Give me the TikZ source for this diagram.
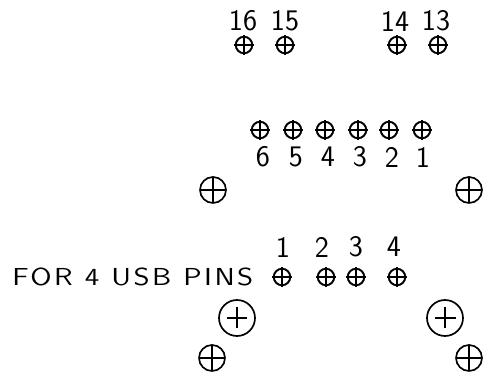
\documentclass[tikz,border=0pt]{standalone}
\usepackage{fontspec}
\newfontfamily\cadfont[FakeStretch=1.2,LetterSpace=10]{Latin Modern Sans}
\begin{document}
\begin{tikzpicture}[x=0.02cm,y=-0.02cm,
  txt/.style={font=\sffamily\fontsize{17}{18}\selectfont,inner sep=0pt},
  note/.style={font=\cadfont\fontsize{14}{15}\selectfont,inner sep=0pt},
  cross/.style={append after command={\pgfextra{
    \draw[line width=0.6pt] ([xshift=-#1]\tikzlastnode.center) -- ([xshift=#1]\tikzlastnode.center);
    \draw[line width=0.6pt] ([yshift=-#1]\tikzlastnode.center) -- ([yshift=#1]\tikzlastnode.center);}}},
  pin/.style={circle,draw,line width=1.1pt,inner sep=0pt,minimum size=0.33cm,cross=0.2cm},
  hole/.style={circle,draw,line width=0.95pt,inner sep=0pt,minimum size=0.52cm,cross=0.26cm},
  mount/.style={circle,draw,line width=0.95pt,inner sep=0pt,minimum size=0.72cm,cross=0.21cm}]
\useasboundingbox (0,0) rectangle (484,374);
% top row
\node[pin] (p16) at (244,45) {};
\node[pin] (p15) at (285,45) {};
\node[pin] (p14) at (397,45) {};
\node[pin] (p13) at (438,45) {};
\node[txt] (t16) at (243,21) {16};
\node[txt] (t15) at (285,21) {15};
\node[txt] (t14) at (395,21) {14};
\node[txt] (t13) at (436,21) {13};
% middle row
\node[pin] (p6) at (260,130) {};
\node[pin] (p5) at (293,130) {};
\node[pin] (p4) at (325,130) {};
\node[pin] (p3) at (358,130) {};
\node[pin] (p2) at (389,130) {};
\node[pin] (p1) at (422,130) {};
\node[txt] (t6) at (263,157) {6};
\node[txt] (t5) at (296,157) {5};
\node[txt] (t4) at (328,157) {4};
\node[txt] (t3) at (360,157) {3};
\node[txt] (t2) at (392,157) {2};
\node[txt] (t1) at (423,157) {1};
\node[hole] (h1) at (213,190) {};
\node[hole] (h2) at (469,190) {};
% usb pins
\node[note,anchor=west] (usb) at (12,277) {FOR 4 USB PINS};
\node[pin] (u1) at (282,277) {};
\node[pin] (u2) at (326,277) {};
\node[pin] (u3) at (356,277) {};
\node[pin] (u4) at (397,277) {};
\node[txt] (n1) at (283,247) {1};
\node[txt] (n2) at (322,247) {2};
\node[txt] (n3) at (356,247) {3};
\node[txt] (n4) at (394,247) {4};
\node[mount] (m1) at (237,318) {};
\node[mount] (m2) at (445,318) {};
\node[hole] (h3) at (212,358) {};
\node[hole] (h4) at (469,358) {};
\end{tikzpicture}
\end{document}
